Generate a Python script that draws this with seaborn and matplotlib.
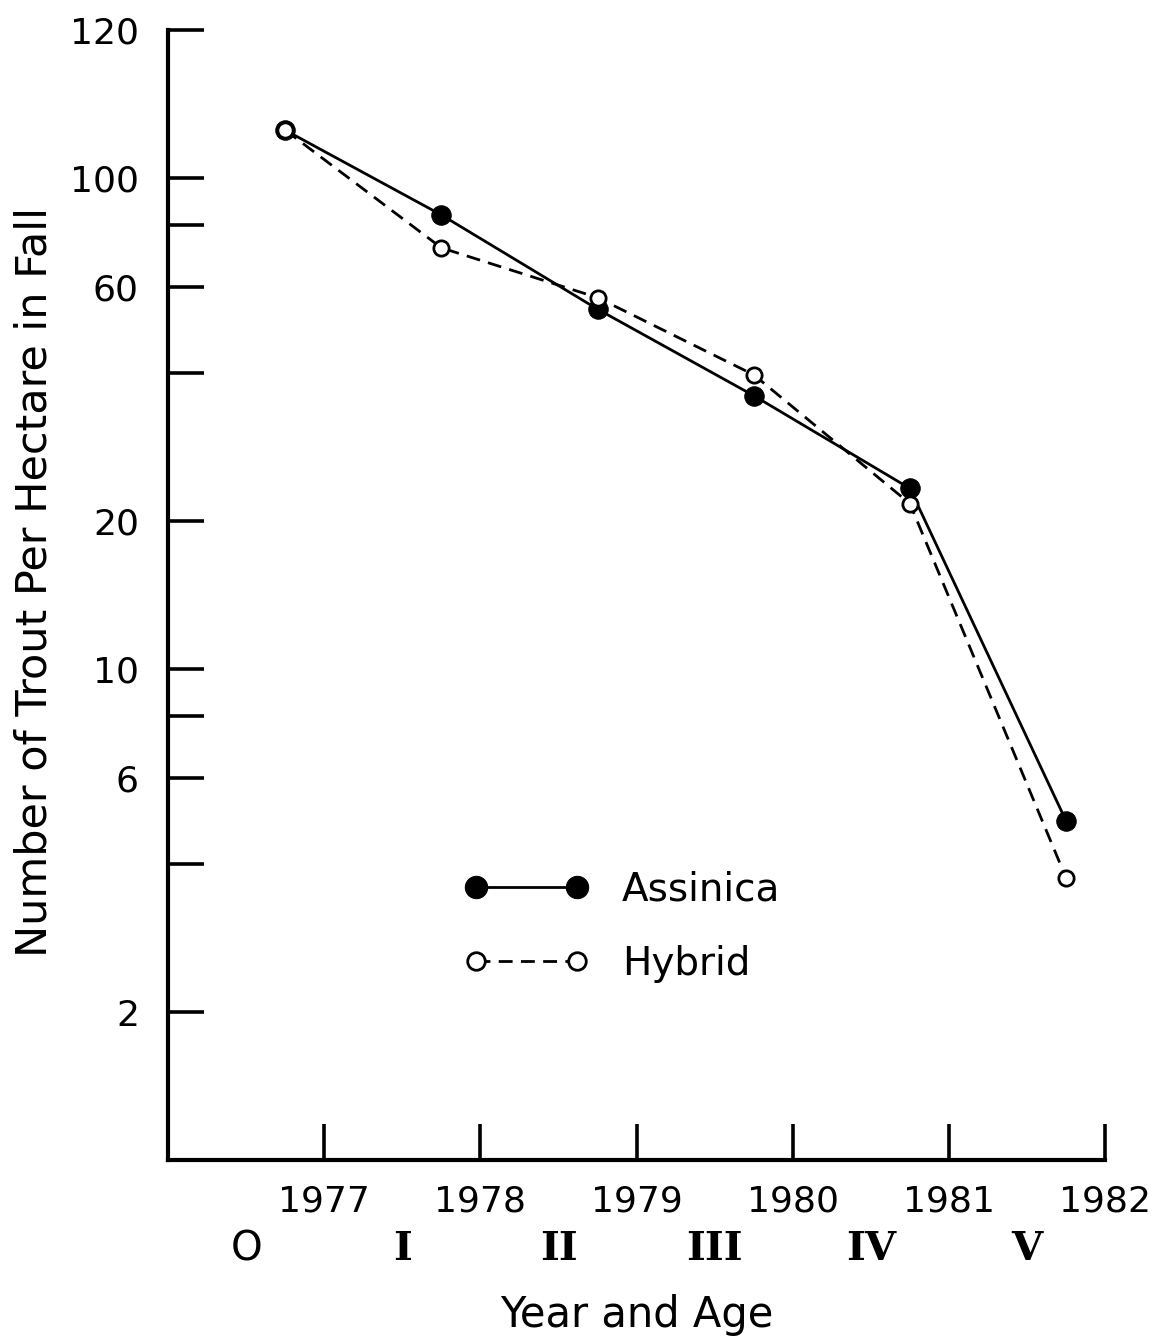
"""Trout per hectare in fall, Assinica vs Hybrid (log scale)."""

import matplotlib
matplotlib.use("Agg")
import matplotlib.pyplot as plt
import matplotlib.transforms as mtransforms
import pandas as pd
import seaborn as sns

# data: sampling in fall, plotted a bit before each year tick
years = [1976.75, 1977.75, 1978.75, 1979.75, 1980.75, 1981.75]
assinica = [125, 84, 54, 36, 23.3, 4.9]
hybrid = [125, 72, 57, 39.7, 21.7, 3.75]

year_ticks = [1977, 1978, 1979, 1980, 1981, 1982]
age_pos = [1976.5, 1977.5, 1978.5, 1979.5, 1980.5, 1981.5]
age_labels = ["O", "I", "II", "III", "IV", "V"]
y_ticks = [200, 100, 80, 60, 40, 20, 10, 8, 6, 4, 2]
y_labels = ["120", "100", "", "60", "", "20", "10", "", "6", "", "2"]

df = pd.DataFrame({
    "year": years * 2,
    "n": assinica + hybrid,
    "strain": ["Assinica"] * len(years) + ["Hybrid"] * len(years),
})

sns.set_style("ticks")
plt.rcParams["font.family"] = ["DejaVu Sans"]
plt.rcParams["text.color"] = "black"
plt.rcParams["axes.labelcolor"] = "black"
plt.rcParams["axes.edgecolor"] = "black"

fig = plt.figure(figsize=(11.67, 13.41), dpi=100)
ax = fig.add_axes([0.144, 0.135, 0.803, 0.8427])

sns.lineplot(data=df[df.strain == "Assinica"], x="year", y="n", ax=ax,
             color="black", lw=2, marker="o", markersize=14,
             markerfacecolor="black", markeredgecolor="black",
             label="Assinica")
sns.lineplot(data=df[df.strain == "Hybrid"], x="year", y="n", ax=ax,
             color="black", lw=2, linestyle=(0, (5, 3)), marker="o",
             markersize=11, markerfacecolor="white",
             markeredgecolor="black", markeredgewidth=2, label="Hybrid")

ax.set_yscale("log")
ax.set_ylim(1, 200)
ax.set_xlim(1976, 1982)
ax.set_yticks(y_ticks)
ax.set_yticklabels(y_labels)
ax.minorticks_off()
ax.set_xticks(year_ticks)
ax.set_xticklabels([str(y) for y in year_ticks])

for s in ["top", "right"]:
    ax.spines[s].set_visible(False)
for s in ["left", "bottom"]:
    ax.spines[s].set_linewidth(3)
ax.tick_params(axis="both", direction="in", length=26, width=2.6,
               labelsize=26, colors="black")
ax.tick_params(axis="y", pad=21)
ax.tick_params(axis="x", pad=18)

trans = mtransforms.blended_transform_factory(ax.transData, ax.transAxes)
for x, lab in zip(age_pos, age_labels):
    if lab == "O":
        ax.text(x, -0.079, lab, transform=trans, ha="center", va="center",
                fontsize=29)
    else:
        ax.text(x, -0.079, lab, transform=trans, ha="center", va="center",
                fontsize=29, family="DejaVu Serif", fontweight="bold")

ax.set_xlabel("Year and Age", fontsize=30, va="center")
ax.xaxis.set_label_coords(0.5, -0.137)
ax.set_ylabel("Number of Trout Per Hectare in Fall", fontsize=31,
              va="center")
ax.yaxis.set_label_coords(-0.142, 0.5115)

ax.legend(loc="upper left", bbox_to_anchor=(0.316, 0.256), frameon=False,
          numpoints=2, handlelength=3.2, handletextpad=0.85,
          labelspacing=0.93, fontsize=28, borderpad=0, borderaxespad=0,
          markerscale=1.15)

fig.savefig("out.png", dpi=100)
plt.close(fig)
